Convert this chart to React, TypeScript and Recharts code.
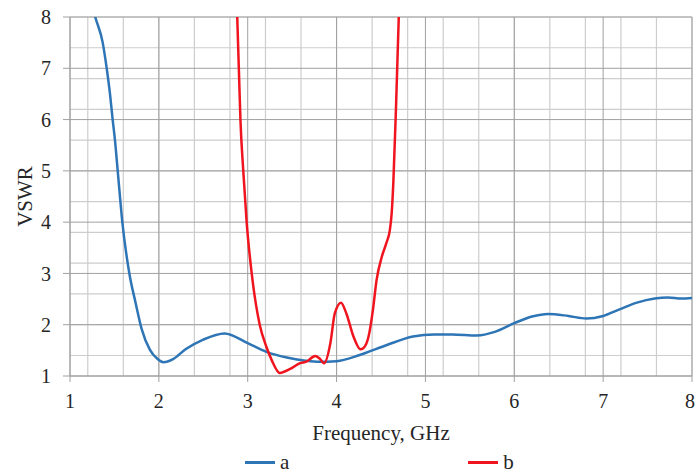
import { LineChart, Line, XAxis, YAxis, CartesianGrid, Legend } from "recharts";

// series a (blue)
const aFreq = [1.21, 1.284, 1.368, 1.413, 1.45, 1.48, 1.506, 1.537, 1.589, 1.668, 1.739, 1.806, 1.9, 1.98, 2.05, 2.16, 2.3, 2.5, 2.74, 3.0, 3.21, 3.44, 3.78, 4.0, 4.26, 4.56, 4.86, 5.1, 5.3, 5.58, 5.78, 6.0, 6.2, 6.38, 6.61, 6.81, 7.0, 7.17, 7.38, 7.58, 7.73, 7.88, 8.0];
const aVswr = [8.5, 8.0, 7.5, 7.0, 6.5, 6.0, 5.6, 5.0, 4.0, 3.0, 2.42, 1.92, 1.51, 1.34, 1.27, 1.33, 1.52, 1.71, 1.83, 1.64, 1.47, 1.36, 1.28, 1.29, 1.41, 1.6, 1.77, 1.81, 1.81, 1.79, 1.86, 2.03, 2.16, 2.21, 2.17, 2.12, 2.17, 2.29, 2.43, 2.51, 2.53, 2.51, 2.52];

// series b (red)
const bFreq = [2.87, 2.882, 2.9, 2.918, 2.95, 2.988, 3.045, 3.135, 3.21, 3.27, 3.36, 3.49, 3.59, 3.66, 3.76, 3.81, 3.86, 3.93, 3.98, 4.05, 4.11, 4.19, 4.27, 4.3, 4.36, 4.41, 4.45, 4.51, 4.56, 4.6, 4.62, 4.64, 4.67, 4.7, 4.71];
const bVswr = [8.6, 8.0, 7.0, 6.0, 5.0, 4.0, 3.0, 2.0, 1.57, 1.31, 1.06, 1.15, 1.25, 1.28, 1.39, 1.34, 1.25, 1.64, 2.22, 2.43, 2.22, 1.77, 1.52, 1.54, 1.77, 2.3, 2.87, 3.33, 3.59, 3.85, 4.17, 4.82, 6.3, 8.0, 8.6];

const xTicks = [1, 2, 3, 4, 5, 6, 7, 8];
const yTicks = [1, 2, 3, 4, 5, 6, 7, 8];

// minor grid every 0.2
const xMinor: number[] = [];
for (let i = 0; i <= 35; i++) xMinor.push(+(1 + i * 0.2).toFixed(1));
const yMinor = xMinor;

const seriesA = aFreq.map((x, i) => ({ x, y: aVswr[i] }));
const seriesB = bFreq.map((x, i) => ({ x, y: bVswr[i] }));

const FONT = "'Liberation Serif', 'Times New Roman', Times, 'DejaVu Serif', 'Noto Serif', serif";
const TEXT = "#262626";
const BLUE = "#2e75b6";
const RED = "#f0141e";

function LegendContent() {
  const item = (color: string, name: string) => (
    <div style={{ display: "flex", alignItems: "center" }}>
      <div style={{ width: 30, height: 3, background: color, marginRight: 5 }} />
      <span style={{ fontSize: 21, lineHeight: "21px", color: TEXT }}>{name}</span>
    </div>
  );
  return (
    <div
      style={{
        height: 27,
        boxSizing: "border-box",
        paddingTop: 6,
        paddingLeft: 245,
        display: "flex",
        alignItems: "flex-start",
        gap: 179,
        fontFamily: FONT,
      }}
    >
      {item(BLUE, "a")}
      {item(RED, "b")}
    </div>
  );
}

export default function App() {
  return (
    <div style={{ width: 695, height: 473, fontFamily: FONT }}>
      <style>{`body{margin:0}`}</style>
      <LineChart width={695} height={473} margin={{ top: 17, right: 3, bottom: 0, left: 0 }}>
        <CartesianGrid
          verticalValues={xMinor}
          horizontalValues={yMinor}
          stroke="#cdcdcd"
          strokeWidth={1.2}
        />
        <CartesianGrid
          verticalValues={xTicks}
          horizontalValues={yTicks}
          stroke="#a0a0a0"
          strokeWidth={1}
        />
        <XAxis
          type="number"
          dataKey="x"
          domain={[1, 8]}
          ticks={xTicks}
          height={70}
          allowDataOverflow
          stroke="#a0a0a0"
          tickSize={6}
          tickMargin={12}
          tick={{ fill: TEXT, fontSize: 20, fontFamily: FONT }}
          label={{
            value: "Frequency, GHz",
            position: "insideBottom",
            offset: 6,
            style: { fill: TEXT, fontSize: 21, fontFamily: FONT },
          }}
        />
        <YAxis
          type="number"
          domain={[1, 8]}
          ticks={yTicks}
          width={70}
          allowDataOverflow
          stroke="#a0a0a0"
          tickSize={7}
          tickMargin={12}
          tick={{ fill: TEXT, fontSize: 20, fontFamily: FONT }}
          label={{
            value: "VSWR",
            angle: -90,
            position: "insideLeft",
            offset: 25,
            style: { fill: TEXT, fontSize: 21, fontFamily: FONT, textAnchor: "middle" },
          }}
        />
        <Legend verticalAlign="bottom" content={() => <LegendContent />} />
        <Line
          data={seriesA}
          dataKey="y"
          name="a"
          type="monotone"
          stroke={BLUE}
          strokeWidth={2.5}
          dot={false}
          isAnimationActive={false}
        />
        <Line
          data={seriesB}
          dataKey="y"
          name="b"
          type="monotone"
          stroke={RED}
          strokeWidth={2.5}
          dot={false}
          isAnimationActive={false}
        />
      </LineChart>
    </div>
  );
}
